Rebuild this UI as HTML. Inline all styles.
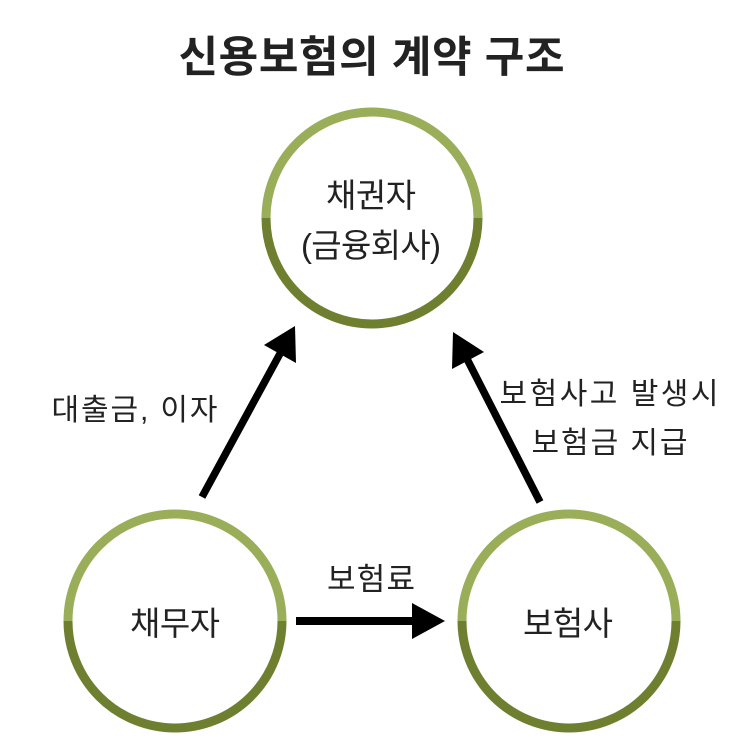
<!DOCTYPE html>
<html>
<head>
<meta charset="utf-8">
<style>
  html, body { margin: 0; padding: 0; background: #ffffff; }
  svg { display: block; }
  text { font-family: "Liberation Sans", "Noto Sans CJK KR", "NanumGothic", sans-serif; fill: #222222; }
</style>
</head>
<body>
<svg width="743" height="743" viewBox="0 0 743 743" xmlns="http://www.w3.org/2000/svg">
  <rect width="743" height="743" fill="#ffffff"/>

  <!-- Title -->
  <text x="371.5" y="72" font-size="43" font-weight="bold" text-anchor="middle" textLength="386" lengthAdjust="spacing">신용보험의 계약 구조</text>

  <!-- Top circle -->
  <path d="M266,218 A106,106 0 0 1 478,218" fill="none" stroke="#9aae5a" stroke-width="9"/>
  <path d="M266,218 A106,106 0 0 0 478,218" fill="none" stroke="#6e8030" stroke-width="9"/>
  <text x="371" y="207" font-size="33" text-anchor="middle" textLength="90" lengthAdjust="spacing">채권자</text>
  <text x="371" y="257" font-size="33" text-anchor="middle" textLength="140" lengthAdjust="spacing">(금융회사)</text>

  <!-- Bottom-left circle -->
  <path d="M68,621 A107,107 0 0 1 282,621" fill="none" stroke="#9aae5a" stroke-width="9"/>
  <path d="M68,621 A107,107 0 0 0 282,621" fill="none" stroke="#6e8030" stroke-width="9"/>
  <text x="175" y="635" font-size="33" text-anchor="middle" textLength="90" lengthAdjust="spacing">채무자</text>

  <!-- Bottom-right circle -->
  <path d="M462,621 A107,107 0 0 1 676,621" fill="none" stroke="#9aae5a" stroke-width="9"/>
  <path d="M462,621 A107,107 0 0 0 676,621" fill="none" stroke="#6e8030" stroke-width="9"/>
  <text x="568" y="635" font-size="33" text-anchor="middle" textLength="90" lengthAdjust="spacing">보험사</text>

  <!-- Horizontal arrow -->
  <line x1="296" y1="621" x2="414" y2="621" stroke="#000" stroke-width="8"/>
  <polygon points="412,603 445,621 412,639" fill="#000"/>
  <text x="371" y="590" font-size="31" text-anchor="middle" textLength="88" lengthAdjust="spacing">보험료</text>

  <!-- Left diagonal arrow -->
  <line x1="202" y1="497" x2="282" y2="350" stroke="#000" stroke-width="7.5"/>
  <polygon points="295,326 264,345 296,363" fill="#000"/>
  <text x="134.5" y="420" font-size="30" text-anchor="middle" textLength="166" lengthAdjust="spacing">대출금, 이자</text>

  <!-- Right diagonal arrow -->
  <line x1="540" y1="502" x2="466" y2="357" stroke="#000" stroke-width="7.5"/>
  <polygon points="453,332 484,352 452,369" fill="#000"/>
  <text x="609" y="404" font-size="30" text-anchor="middle" textLength="219" lengthAdjust="spacing">보험사고 발생시</text>
  <text x="609.5" y="453" font-size="30" text-anchor="middle" textLength="156" lengthAdjust="spacing">보험금 지급</text>
</svg>
</body>
</html>
